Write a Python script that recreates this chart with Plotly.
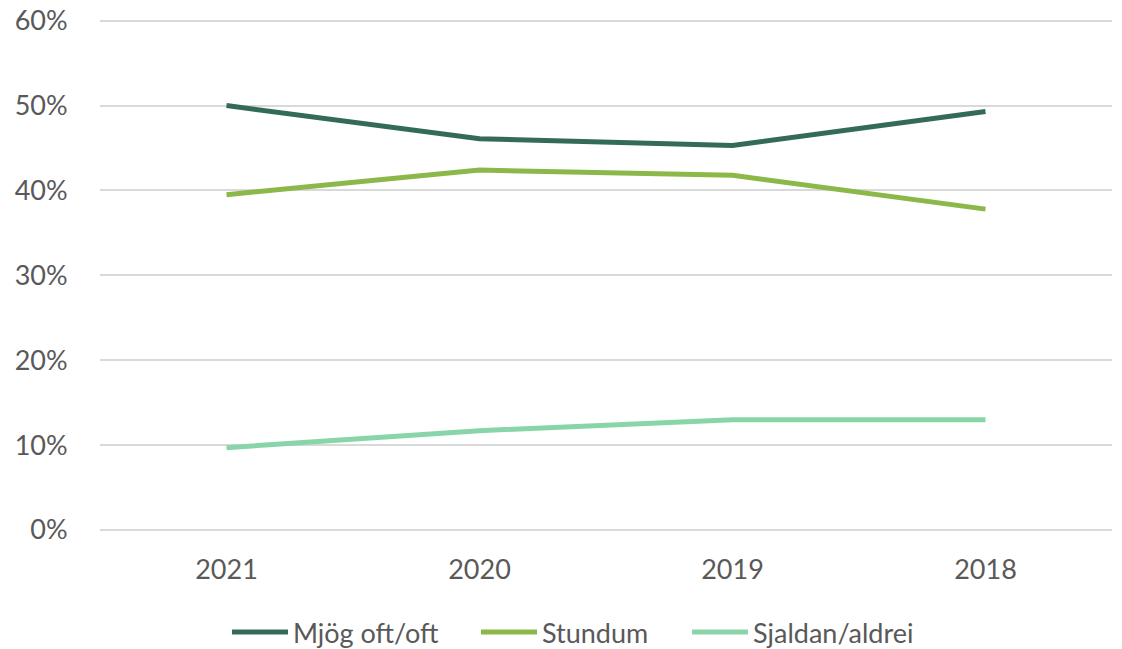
import plotly.graph_objects as go

years = ["2021", "2020", "2019", "2018"]
mjog_oft = [50.0, 46.1, 45.3, 49.3]
stundum = [39.5, 42.4, 41.8, 37.8]
sjaldan = [9.7, 11.7, 13.0, 13.0]
y_ticks = [0, 10, 20, 30, 40, 50, 60]
y_tick_labels = ["0%", "10%", "20%", "30%", "40%", "50%", "60%"]

series = [
    ("Mjög oft/oft", mjog_oft, "#346b57"),
    ("Stundum", stundum, "#8cb849"),
    ("Sjaldan/aldrei", sjaldan, "#88d5a9"),
]

font_family = "Lato, 'Open Sans', sans-serif"
text_color = "#595959"
font_size = 27

W, H = 1122, 649
L, R, T, B = 100, 10, 19, 119
plot_w = W - L - R
plot_h = H - T - B


def px_x(px):
    return (px - L) / plot_w


def px_y(py):
    return (H - B - py) / plot_h


fig = go.Figure()
for name, vals, color in series:
    fig.add_trace(go.Scatter(
        x=years, y=vals, name=name, mode="lines",
        line=dict(color=color, width=5),
        hovertemplate="%{x}: %{y:.1f}%<extra>" + name + "</extra>",
    ))

# legend drawn below the plot: short line swatch followed by its label
legend_y = px_y(632)
legend_items = [(232, 288), (481, 537), (692, 748)]
for (x0, x1), (name, _, color) in zip(legend_items, series):
    fig.add_shape(
        type="line", xref="paper", yref="paper",
        x0=px_x(x0), x1=px_x(x1), y0=legend_y, y1=legend_y,
        line=dict(color=color, width=5),
    )
    fig.add_annotation(
        xref="paper", yref="paper", x=px_x(x1 + 3), y=legend_y,
        xanchor="left", yanchor="middle", text=name, showarrow=False,
        font=dict(family=font_family, size=font_size, color=text_color),
    )

fig.update_layout(
    width=W, height=H,
    margin=dict(l=L, r=R, t=T, b=B),
    plot_bgcolor="white", paper_bgcolor="white",
    font=dict(family=font_family, size=font_size, color=text_color),
    showlegend=False,
    xaxis=dict(
        type="category", showgrid=False, zeroline=False,
        showline=False, ticks="outside", ticklen=16, tickcolor="rgba(0,0,0,0)",
        range=[-0.5, 3.5], automargin=False,
    ),
    yaxis=dict(
        range=[0, 60.2], tickmode="array", tickvals=y_ticks, ticktext=y_tick_labels,
        showgrid=True, gridcolor="#d9d9d9", gridwidth=1.5,
        zeroline=True, zerolinecolor="#d9d9d9", zerolinewidth=1.5,
        showline=False, automargin=False,
        ticks="outside", ticklen=26, tickcolor="rgba(0,0,0,0)",
    ),
)

fig.write_html("out.html")
